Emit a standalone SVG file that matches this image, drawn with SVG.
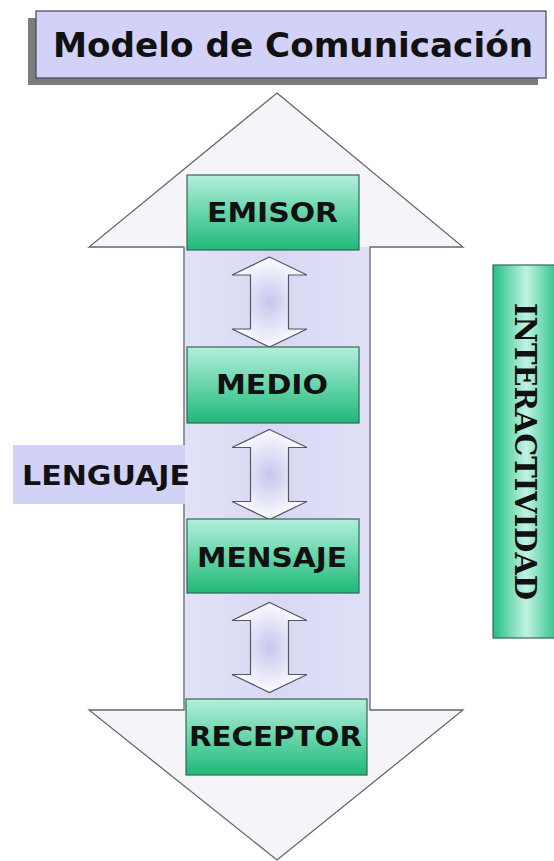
<svg xmlns="http://www.w3.org/2000/svg" width="554" height="861" viewBox="0 0 554 861">
  <defs>
    <linearGradient id="boxGrad" x1="0" y1="0" x2="0" y2="1">
      <stop offset="0" stop-color="#b4eedc"/>
      <stop offset="0.45" stop-color="#6fd8b0"/>
      <stop offset="1" stop-color="#1fb877"/>
    </linearGradient>
    <linearGradient id="sideGrad" x1="0" y1="0" x2="1" y2="0">
      <stop offset="0" stop-color="#22c083"/>
      <stop offset="0.5" stop-color="#c2f2e2"/>
      <stop offset="1" stop-color="#24c286"/>
    </linearGradient>
    <radialGradient id="smallGrad" cx="0.5" cy="0.5" r="0.5">
      <stop offset="0" stop-color="#c6c6ee"/>
      <stop offset="0.6" stop-color="#e6e6f8"/>
      <stop offset="1" stop-color="#fbfbff"/>
    </radialGradient>
    <linearGradient id="shaftGrad" x1="0" y1="0" x2="1" y2="0">
      <stop offset="0" stop-color="#e2e2f7"/>
      <stop offset="0.5" stop-color="#d8d8f4"/>
      <stop offset="1" stop-color="#e0e0f7"/>
    </linearGradient>
    <path id="dbl" d="M0,0 L37.5,18 L19,18 L19,72 L37.5,72 L0,90 L-37.5,72 L-19,72 L-19,18 L-37.5,18 Z"/>
  </defs>
  <style>
    .lbl { font-family: "DejaVu Sans", Verdana, sans-serif; font-weight: bold; fill: #111; }
    .box { fill: url(#boxGrad); stroke: #2f6a55; stroke-width: 1.2; }
    .small { fill: url(#smallGrad); stroke: #555566; stroke-width: 1.2; }
  </style>
  <rect width="554" height="861" fill="#ffffff"/>

  <g id="title">
    <rect x="28" y="18" width="510" height="67" fill="#7c7c7c"/>
    <rect x="36" y="11" width="510" height="67" fill="#d2d2f8" stroke="#444455" stroke-width="1.2"/>
    <text x="53" y="57" class="lbl" font-size="34" textLength="480" lengthAdjust="spacingAndGlyphs">Modelo de Comunicación</text>
  </g>

  <g id="big-arrow">
    <polygon points="277,93 463,247 370,247 370,710 463,710 277,860 89,710 184,710 184,247 89,247" fill="#f4f4f9"/>
    <rect x="184" y="247" width="186" height="463" fill="url(#shaftGrad)"/>
    <polygon points="277,93 463,247 370,247 370,710 463,710 277,860 89,710 184,710 184,247 89,247" fill="none" stroke="#666670" stroke-width="1.3"/>
  </g>

  <g id="lenguaje">
    <rect x="13" y="445" width="172" height="59" fill="#d2d2f6"/>
    <text x="22" y="485" class="lbl" font-size="27" textLength="168" lengthAdjust="spacingAndGlyphs">LENGUAJE</text>
  </g>

  <g id="connectors">
    <use href="#dbl" class="small" transform="translate(269.5,257)"/>
    <use href="#dbl" class="small" transform="translate(269.5,429.5)"/>
    <use href="#dbl" class="small" transform="translate(269.5,602.5)"/>
  </g>

  <g id="emisor">
    <rect x="187" y="175" width="172" height="75" class="box"/>
    <text x="207" y="222" class="lbl" font-size="27" textLength="131" lengthAdjust="spacingAndGlyphs">EMISOR</text>
  </g>
  <g id="medio">
    <rect x="187" y="347" width="172" height="76" class="box"/>
    <text x="216" y="394" class="lbl" font-size="27" textLength="112" lengthAdjust="spacingAndGlyphs">MEDIO</text>
  </g>
  <g id="mensaje">
    <rect x="187" y="519" width="172" height="74" class="box"/>
    <text x="197" y="567" class="lbl" font-size="27" textLength="150" lengthAdjust="spacingAndGlyphs">MENSAJE</text>
  </g>
  <g id="receptor">
    <rect x="186" y="699" width="181" height="76" class="box"/>
    <text x="189" y="746" class="lbl" font-size="27" textLength="173" lengthAdjust="spacingAndGlyphs">RECEPTOR</text>
  </g>

  <g id="interactividad">
    <rect x="493" y="265" width="66" height="373" fill="url(#sideGrad)" stroke="#2f6a55" stroke-width="1.2"/>
    <text transform="translate(515,303) rotate(90)" x="0" y="0" font-family="'DejaVu Serif', 'Liberation Serif', serif" font-weight="bold" font-size="30" fill="#111" textLength="297" lengthAdjust="spacingAndGlyphs">INTERACTIVIDAD</text>
  </g>
</svg>
